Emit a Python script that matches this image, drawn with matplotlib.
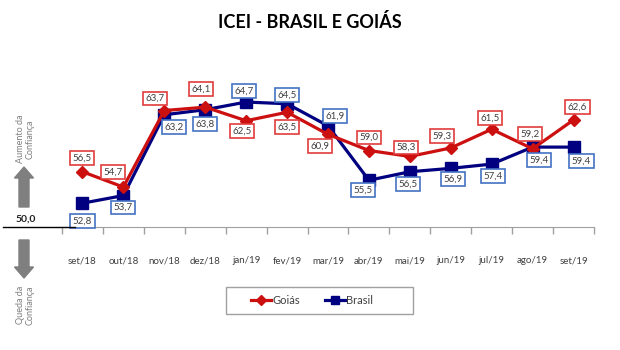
import matplotlib
matplotlib.use("Agg")
import matplotlib.pyplot as plt
from matplotlib.patches import FancyArrow, Rectangle
from matplotlib.lines import Line2D

plt.rcParams['font.family'] = ['Lato', 'DejaVu Sans']

categories = ["set/18", "out/18", "nov/18", "dez/18", "jan/19", "fev/19", "mar/19",
              "abr/19", "mai/19", "jun/19", "jul/19", "ago/19", "set/19"]
goias = [56.5, 54.7, 63.7, 64.1, 62.5, 63.5, 60.9, 59.0, 58.3, 59.3, 61.5, 59.2, 62.6]
brasil = [52.8, 53.7, 63.2, 63.8, 64.7, 64.5, 61.9, 55.5, 56.5, 56.9, 57.4, 59.4, 59.4]
title = "ICEI - BRASIL E GOIÁS"
baseline = 50.0

# label offsets in pixels (dx, dy)
goias_off = [(0, 14), (-10, 15), (-9, 12), (-4, 18), (-4, -10), (0, -15), (-8, -12),
             (0, 13), (-4, 9), (-9, 12), (-2, 11), (-3, 15), (4, 13)]
brasil_off = [(0, -18), (0, -12), (10, -12), (0, -14), (-2, 11), (0, 9), (7, 10),
              (-6, -10), (-2, -12), (2, -11), (1, -12), (6, -13), (8, -14)]

W, H = 620, 350
fig = plt.figure(figsize=(W / 100, H / 100), dpi=100)
fig.patch.set_facecolor("white")

ax_l, ax_r, ax_b, ax_t = 62, 594, 227, 91
ax = fig.add_axes([ax_l / W, 1 - ax_b / H, (ax_r - ax_l) / W, (ax_b - ax_t) / H])
ax.set_xlim(-0.5, len(categories) - 0.5)
ax.set_ylim(50, 66)

red = "#CC1010"
navy = "#000080"
x = list(range(len(categories)))
ax.plot(x, goias, color=red, lw=2.3, marker="D", ms=6, zorder=3, clip_on=False)
ax.plot(x, brasil, color=navy, lw=2.3, marker="s", ms=8, zorder=2, clip_on=False)

for i in x:
    ax.annotate(f"{goias[i]:.1f}".replace(".", ","), (i, goias[i]),
                xytext=goias_off[i], textcoords="offset pixels",
                ha="center", va="center", fontsize=7, color="#404040",
                bbox=dict(boxstyle="square,pad=0.25", fc="white", ec="#E03C3C", lw=1.2),
                zorder=5, annotation_clip=False)
    ax.annotate(f"{brasil[i]:.1f}".replace(".", ","), (i, brasil[i]),
                xytext=brasil_off[i], textcoords="offset pixels",
                ha="center", va="center", fontsize=7, color="#404040",
                bbox=dict(boxstyle="square,pad=0.25", fc="white", ec="#4472C4", lw=1.2),
                zorder=5, annotation_clip=False)

for s in ["top", "right", "left"]:
    ax.spines[s].set_visible(False)
ax.spines["bottom"].set_color("#A0A0A0")
ax.set_yticks([])
ax.set_xticks(x)
ax.set_xticklabels(categories, fontsize=7, color="#404040")
ax.tick_params(axis="x", which="major", length=0, pad=21)
ax.set_xticks([i - 0.5 for i in range(len(categories) + 1)], minor=True)
ax.tick_params(axis="x", which="minor", length=5, color="#A0A0A0", width=1)

# helper: figure pixel (top-left origin) to figure fraction
def fx(px):
    return px / W

def fy(py):
    return 1 - py / H

# baseline line on the left
fig.add_artist(Line2D([fx(3), fx(75)], [fy(227), fy(227)], color="black", lw=1.0))
fig.text(fx(26), fy(219), f"{baseline:.1f}".replace(".", ","), ha="center", va="center",
         fontsize=7.5, fontweight="bold", color="#202020")

# arrows (in inches)
gray = "#7F7F7F"
fig.add_artist(FancyArrow(24 / 100, (H - 207) / 100, 0, 40 / 100, width=0.10,
                          head_width=0.19, head_length=0.11, length_includes_head=True,
                          color=gray, transform=fig.dpi_scale_trans))
fig.add_artist(FancyArrow(24 / 100, (H - 240) / 100, 0, -38 / 100, width=0.10,
                          head_width=0.19, head_length=0.11, length_includes_head=True,
                          color=gray, transform=fig.dpi_scale_trans))
fig.text(fx(25), fy(139), "Aumento da\nConfiança", rotation=90, ha="center", va="center",
         fontsize=6.5, color=gray, linespacing=1.1)
fig.text(fx(25), fy(305), "Queda da\nConfiança", rotation=90, ha="center", va="center",
         fontsize=6.5, color=gray, linespacing=1.1)

fig.text(0.5, fy(22), title, ha="center", va="center", fontsize=13, fontweight="bold",
         color="black")

# legend
fig.add_artist(Rectangle((fx(226), fy(314)), (413 - 226) / W, (314 - 287) / H,
                         fill=False, ec="#A0A0A0", lw=1, transform=fig.transFigure))
handles = [Line2D([], [], color=red, lw=2.3, marker="D", ms=5),
           Line2D([], [], color=navy, lw=2.3, marker="s", ms=6)]
fig.legend(handles, ["Goiás", "Brasil"], loc="center", bbox_to_anchor=(fx(312), fy(300.5)),
           ncol=2, frameon=False, fontsize=8, handlelength=1.8, handletextpad=0.1,
           columnspacing=2.2, labelcolor="#404040")

fig.savefig("out.png", dpi=100, facecolor="white")
